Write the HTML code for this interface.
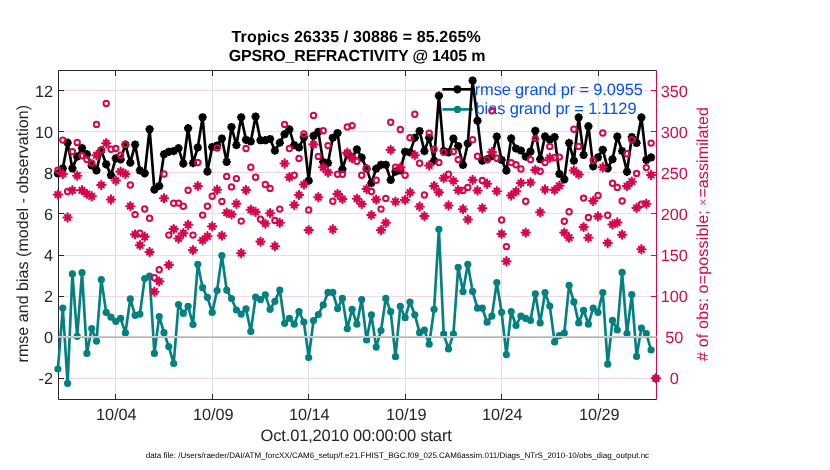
<!DOCTYPE html>
<html lang="en">
<head>
<meta charset="utf-8">
<title>GPSRO_REFRACTIVITY @ 1405 m</title>
<style>
html,body{margin:0;padding:0;background:#fff;overflow:hidden}
body{width:830px;height:470px;font-family:"Liberation Sans",sans-serif}
</style>
</head>
<body>
<svg width="830" height="470" viewBox="0 0 830 470" style="display:block;will-change:transform;opacity:0.9999;text-rendering:geometricPrecision">
<rect width="830" height="470" fill="#fff"/>
<line x1="115.50" y1="70.5" x2="115.50" y2="399.5" stroke="#dfdfdf" stroke-width="1" shape-rendering="crispEdges"/>
<line x1="212.50" y1="70.5" x2="212.50" y2="399.5" stroke="#dfdfdf" stroke-width="1" shape-rendering="crispEdges"/>
<line x1="308.50" y1="70.5" x2="308.50" y2="399.5" stroke="#dfdfdf" stroke-width="1" shape-rendering="crispEdges"/>
<line x1="405.50" y1="70.5" x2="405.50" y2="399.5" stroke="#dfdfdf" stroke-width="1" shape-rendering="crispEdges"/>
<line x1="501.50" y1="70.5" x2="501.50" y2="399.5" stroke="#dfdfdf" stroke-width="1" shape-rendering="crispEdges"/>
<line x1="598.50" y1="70.5" x2="598.50" y2="399.5" stroke="#dfdfdf" stroke-width="1" shape-rendering="crispEdges"/>
<line x1="58.5" y1="378.50" x2="656.5" y2="378.50" stroke="#f8d6e1" stroke-width="1" shape-rendering="crispEdges"/>
<line x1="58.5" y1="337.50" x2="656.5" y2="337.50" stroke="#f8d6e1" stroke-width="1" shape-rendering="crispEdges"/>
<line x1="58.5" y1="296.50" x2="656.5" y2="296.50" stroke="#f8d6e1" stroke-width="1" shape-rendering="crispEdges"/>
<line x1="58.5" y1="255.50" x2="656.5" y2="255.50" stroke="#f8d6e1" stroke-width="1" shape-rendering="crispEdges"/>
<line x1="58.5" y1="213.50" x2="656.5" y2="213.50" stroke="#f8d6e1" stroke-width="1" shape-rendering="crispEdges"/>
<line x1="58.5" y1="172.50" x2="656.5" y2="172.50" stroke="#f8d6e1" stroke-width="1" shape-rendering="crispEdges"/>
<line x1="58.5" y1="131.50" x2="656.5" y2="131.50" stroke="#f8d6e1" stroke-width="1" shape-rendering="crispEdges"/>
<line x1="58.5" y1="90.50" x2="656.5" y2="90.50" stroke="#f8d6e1" stroke-width="1" shape-rendering="crispEdges"/>
<path d="M58.5 399.5V70.5H656.5" fill="none" stroke="#262626" stroke-width="1"/>
<path d="M58.5 399.5H656.5" fill="none" stroke="#262626" stroke-width="1"/>
<path d="M656.5 70.5V399.5" fill="none" stroke="#d6074f" stroke-width="1"/>
<path d="M115.50 399.5v-5.5M115.50 70.5v5.5" stroke="#262626" stroke-width="1"/>
<path d="M212.50 399.5v-5.5M212.50 70.5v5.5" stroke="#262626" stroke-width="1"/>
<path d="M308.50 399.5v-5.5M308.50 70.5v5.5" stroke="#262626" stroke-width="1"/>
<path d="M405.50 399.5v-5.5M405.50 70.5v5.5" stroke="#262626" stroke-width="1"/>
<path d="M501.50 399.5v-5.5M501.50 70.5v5.5" stroke="#262626" stroke-width="1"/>
<path d="M598.50 399.5v-5.5M598.50 70.5v5.5" stroke="#262626" stroke-width="1"/>
<path d="M58.5 378.50h5.5" stroke="#262626" stroke-width="1"/>
<path d="M58.5 337.50h5.5" stroke="#262626" stroke-width="1"/>
<path d="M58.5 296.50h5.5" stroke="#262626" stroke-width="1"/>
<path d="M58.5 255.50h5.5" stroke="#262626" stroke-width="1"/>
<path d="M58.5 213.50h5.5" stroke="#262626" stroke-width="1"/>
<path d="M58.5 172.50h5.5" stroke="#262626" stroke-width="1"/>
<path d="M58.5 131.50h5.5" stroke="#262626" stroke-width="1"/>
<path d="M58.5 90.50h5.5" stroke="#262626" stroke-width="1"/>
<path d="M656.5 378.50h-5.5" stroke="#d6074f" stroke-width="1"/>
<path d="M656.5 337.50h-5.5" stroke="#d6074f" stroke-width="1"/>
<path d="M656.5 296.50h-5.5" stroke="#d6074f" stroke-width="1"/>
<path d="M656.5 255.50h-5.5" stroke="#d6074f" stroke-width="1"/>
<path d="M656.5 213.50h-5.5" stroke="#d6074f" stroke-width="1"/>
<path d="M656.5 172.50h-5.5" stroke="#d6074f" stroke-width="1"/>
<path d="M656.5 131.50h-5.5" stroke="#d6074f" stroke-width="1"/>
<path d="M656.5 90.50h-5.5" stroke="#d6074f" stroke-width="1"/>
<defs>
<g id="bk"><circle r="3.25" fill="#000"/><path d="M-4.1 0H4.1M0 -4.1V4.1M-2.9 -2.9L2.9 2.9M-2.9 2.9L2.9 -2.9" stroke="#000" stroke-width="2.4" fill="none"/></g>
<circle id="tl" r="3.6" fill="#038080"/>
<circle id="ro" r="2.7" fill="none" stroke="#d6074f" stroke-width="2"/>
<g id="rs"><circle r="2.7" fill="#d6074f"/><path d="M-4.15 0H4.15M0 -4.15V4.15M-2.6 -2.6L2.6 2.6M-2.6 2.6L2.6 -2.6" stroke="#d6074f" stroke-width="2.1" stroke-linecap="round" fill="none"/></g>
</defs>
<path d="M442.4 89.3H472.8" stroke="#000" stroke-width="2.67"/><use href="#bk" x="457.4" y="89.3"/>
<path d="M442.4 109.4H472.8" stroke="#038080" stroke-width="2.67"/><use href="#tl" x="457.4" y="109.4"/>
<polyline points="57.9,369.0 62.8,308.1 67.6,383.3 72.4,273.9 77.2,336.3 82.0,272.7 86.9,353.4 91.7,328.6 96.5,341.1 101.3,279.7 106.2,312.4 111.0,317.2 115.8,321.3 120.6,318.4 125.4,332.9 130.3,298.9 135.1,315.3 139.9,314.1 144.7,278.5 149.6,276.1 154.4,353.4 159.2,316.5 164.0,332.7 168.8,346.6 173.7,363.5 178.5,304.5 183.3,313.4 188.1,306.4 193.0,324.5 197.8,264.3 202.6,287.7 207.4,297.3 212.2,312.4 217.1,290.5 221.9,255.6 226.7,290.1 231.5,298.5 236.4,310.0 241.2,314.1 246.0,308.8 250.8,331.4 255.6,297.2 260.5,299.6 265.3,294.8 270.1,309.3 274.9,301.3 279.8,290.0 284.6,323.3 289.4,318.4 294.2,324.2 299.0,311.7 303.9,322.0 308.7,357.5 313.5,320.6 318.3,314.6 323.2,304.9 328.0,292.4 332.8,292.4 337.6,308.6 342.4,298.4 347.3,328.6 352.1,309.3 356.9,324.2 361.7,299.6 366.6,339.9 371.4,314.8 376.2,347.1 381.0,330.5 385.8,298.4 390.7,311.7 395.5,356.7 400.3,306.4 405.1,317.7 410.0,302.0 414.8,314.8 419.6,332.7 424.4,330.2 429.2,344.2 434.1,309.3 438.9,229.3 443.7,334.1 448.5,349.0 453.4,334.1 458.2,267.3 463.0,291.6 467.8,264.3 472.6,291.4 477.5,308.2 482.3,308.2 487.1,322.2 491.9,316.1 496.8,282.5 501.6,312.3 506.4,354.6 511.2,311.5 516.0,325.5 520.9,316.1 525.7,318.4 530.5,320.4 535.3,293.8 540.2,322.9 545.0,292.5 549.8,306.0 554.6,341.9 559.4,335.6 564.3,333.1 569.1,285.3 573.9,301.9 578.7,322.9 583.6,310.3 588.4,324.2 593.2,308.2 598.0,312.3 602.8,292.5 607.7,364.2 612.5,320.4 617.3,330.0 622.1,272.4 627.0,333.6 631.8,294.6 636.6,356.4 641.4,328.0 646.3,333.6 651.1,350.0" fill="none" stroke="#038080" stroke-width="2.67" stroke-linejoin="round"/>
<use href="#tl" x="57.9" y="369.0"/>
<use href="#tl" x="62.8" y="308.1"/>
<use href="#tl" x="67.6" y="383.3"/>
<use href="#tl" x="72.4" y="273.9"/>
<use href="#tl" x="77.2" y="336.3"/>
<use href="#tl" x="82.0" y="272.7"/>
<use href="#tl" x="86.9" y="353.4"/>
<use href="#tl" x="91.7" y="328.6"/>
<use href="#tl" x="96.5" y="341.1"/>
<use href="#tl" x="101.3" y="279.7"/>
<use href="#tl" x="106.2" y="312.4"/>
<use href="#tl" x="111.0" y="317.2"/>
<use href="#tl" x="115.8" y="321.3"/>
<use href="#tl" x="120.6" y="318.4"/>
<use href="#tl" x="125.4" y="332.9"/>
<use href="#tl" x="130.3" y="298.9"/>
<use href="#tl" x="135.1" y="315.3"/>
<use href="#tl" x="139.9" y="314.1"/>
<use href="#tl" x="144.7" y="278.5"/>
<use href="#tl" x="149.6" y="276.1"/>
<use href="#tl" x="154.4" y="353.4"/>
<use href="#tl" x="159.2" y="316.5"/>
<use href="#tl" x="164.0" y="332.7"/>
<use href="#tl" x="168.8" y="346.6"/>
<use href="#tl" x="173.7" y="363.5"/>
<use href="#tl" x="178.5" y="304.5"/>
<use href="#tl" x="183.3" y="313.4"/>
<use href="#tl" x="188.1" y="306.4"/>
<use href="#tl" x="193.0" y="324.5"/>
<use href="#tl" x="197.8" y="264.3"/>
<use href="#tl" x="202.6" y="287.7"/>
<use href="#tl" x="207.4" y="297.3"/>
<use href="#tl" x="212.2" y="312.4"/>
<use href="#tl" x="217.1" y="290.5"/>
<use href="#tl" x="221.9" y="255.6"/>
<use href="#tl" x="226.7" y="290.1"/>
<use href="#tl" x="231.5" y="298.5"/>
<use href="#tl" x="236.4" y="310.0"/>
<use href="#tl" x="241.2" y="314.1"/>
<use href="#tl" x="246.0" y="308.8"/>
<use href="#tl" x="250.8" y="331.4"/>
<use href="#tl" x="255.6" y="297.2"/>
<use href="#tl" x="260.5" y="299.6"/>
<use href="#tl" x="265.3" y="294.8"/>
<use href="#tl" x="270.1" y="309.3"/>
<use href="#tl" x="274.9" y="301.3"/>
<use href="#tl" x="279.8" y="290.0"/>
<use href="#tl" x="284.6" y="323.3"/>
<use href="#tl" x="289.4" y="318.4"/>
<use href="#tl" x="294.2" y="324.2"/>
<use href="#tl" x="299.0" y="311.7"/>
<use href="#tl" x="303.9" y="322.0"/>
<use href="#tl" x="308.7" y="357.5"/>
<use href="#tl" x="313.5" y="320.6"/>
<use href="#tl" x="318.3" y="314.6"/>
<use href="#tl" x="323.2" y="304.9"/>
<use href="#tl" x="328.0" y="292.4"/>
<use href="#tl" x="332.8" y="292.4"/>
<use href="#tl" x="337.6" y="308.6"/>
<use href="#tl" x="342.4" y="298.4"/>
<use href="#tl" x="347.3" y="328.6"/>
<use href="#tl" x="352.1" y="309.3"/>
<use href="#tl" x="356.9" y="324.2"/>
<use href="#tl" x="361.7" y="299.6"/>
<use href="#tl" x="366.6" y="339.9"/>
<use href="#tl" x="371.4" y="314.8"/>
<use href="#tl" x="376.2" y="347.1"/>
<use href="#tl" x="381.0" y="330.5"/>
<use href="#tl" x="385.8" y="298.4"/>
<use href="#tl" x="390.7" y="311.7"/>
<use href="#tl" x="395.5" y="356.7"/>
<use href="#tl" x="400.3" y="306.4"/>
<use href="#tl" x="405.1" y="317.7"/>
<use href="#tl" x="410.0" y="302.0"/>
<use href="#tl" x="414.8" y="314.8"/>
<use href="#tl" x="419.6" y="332.7"/>
<use href="#tl" x="424.4" y="330.2"/>
<use href="#tl" x="429.2" y="344.2"/>
<use href="#tl" x="434.1" y="309.3"/>
<use href="#tl" x="438.9" y="229.3"/>
<use href="#tl" x="443.7" y="334.1"/>
<use href="#tl" x="448.5" y="349.0"/>
<use href="#tl" x="453.4" y="334.1"/>
<use href="#tl" x="458.2" y="267.3"/>
<use href="#tl" x="463.0" y="291.6"/>
<use href="#tl" x="467.8" y="264.3"/>
<use href="#tl" x="472.6" y="291.4"/>
<use href="#tl" x="477.5" y="308.2"/>
<use href="#tl" x="482.3" y="308.2"/>
<use href="#tl" x="487.1" y="322.2"/>
<use href="#tl" x="491.9" y="316.1"/>
<use href="#tl" x="496.8" y="282.5"/>
<use href="#tl" x="501.6" y="312.3"/>
<use href="#tl" x="506.4" y="354.6"/>
<use href="#tl" x="511.2" y="311.5"/>
<use href="#tl" x="516.0" y="325.5"/>
<use href="#tl" x="520.9" y="316.1"/>
<use href="#tl" x="525.7" y="318.4"/>
<use href="#tl" x="530.5" y="320.4"/>
<use href="#tl" x="535.3" y="293.8"/>
<use href="#tl" x="540.2" y="322.9"/>
<use href="#tl" x="545.0" y="292.5"/>
<use href="#tl" x="549.8" y="306.0"/>
<use href="#tl" x="554.6" y="341.9"/>
<use href="#tl" x="559.4" y="335.6"/>
<use href="#tl" x="564.3" y="333.1"/>
<use href="#tl" x="569.1" y="285.3"/>
<use href="#tl" x="573.9" y="301.9"/>
<use href="#tl" x="578.7" y="322.9"/>
<use href="#tl" x="583.6" y="310.3"/>
<use href="#tl" x="588.4" y="324.2"/>
<use href="#tl" x="593.2" y="308.2"/>
<use href="#tl" x="598.0" y="312.3"/>
<use href="#tl" x="602.8" y="292.5"/>
<use href="#tl" x="607.7" y="364.2"/>
<use href="#tl" x="612.5" y="320.4"/>
<use href="#tl" x="617.3" y="330.0"/>
<use href="#tl" x="622.1" y="272.4"/>
<use href="#tl" x="627.0" y="333.6"/>
<use href="#tl" x="631.8" y="294.6"/>
<use href="#tl" x="636.6" y="356.4"/>
<use href="#tl" x="641.4" y="328.0"/>
<use href="#tl" x="646.3" y="333.6"/>
<use href="#tl" x="651.1" y="350.0"/>
<polyline points="57.9,173.5 62.8,168.4 67.6,142.7 72.4,168.4 77.2,156.6 82.0,148.0 86.9,154.2 91.7,165.5 96.5,170.4 101.3,150.4 106.2,164.3 111.0,175.2 115.8,158.3 120.6,159.5 125.4,144.6 130.3,162.7 135.1,144.6 139.9,170.4 144.7,173.3 149.6,129.2 154.4,189.6 159.2,186.0 164.0,154.2 168.8,151.8 173.7,151.1 178.5,148.2 183.3,163.6 188.1,128.2 193.0,163.1 197.8,147.5 202.6,117.3 207.4,171.6 212.2,147.0 217.1,145.5 221.9,138.6 226.7,161.9 231.5,127.0 236.4,145.1 241.2,117.3 246.0,139.8 250.8,141.4 255.6,116.6 260.5,140.2 265.3,140.2 270.1,139.0 274.9,150.6 279.8,142.7 284.6,134.2 289.4,129.4 294.2,145.1 299.0,147.5 303.9,137.3 308.7,180.7 313.5,135.9 318.3,131.8 323.2,161.9 328.0,163.1 332.8,137.8 337.6,133.0 342.4,169.2 347.3,153.5 352.1,157.6 356.9,149.4 361.7,157.6 366.6,168.7 371.4,183.1 376.2,168.7 381.0,164.8 385.8,164.8 390.7,180.0 395.5,171.6 400.3,170.4 405.1,151.8 410.0,152.3 414.8,137.8 419.6,131.1 424.4,151.1 429.2,137.8 434.1,160.7 438.9,95.7 443.7,151.1 448.5,152.3 453.4,138.6 458.2,146.0 463.0,165.0 467.8,143.5 472.6,80.6 477.5,120.7 482.3,160.7 487.1,159.2 491.9,156.1 496.8,136.6 501.6,159.9 506.4,170.6 511.2,138.4 516.0,148.5 520.9,150.5 525.7,156.6 530.5,151.6 535.3,130.8 540.2,159.2 545.0,136.4 549.8,139.7 554.6,137.1 559.4,173.9 564.3,179.4 569.1,142.9 573.9,160.7 578.7,117.4 583.6,154.9 588.4,126.2 593.2,166.3 598.0,157.4 602.8,149.8 607.7,168.3 612.5,159.2 617.3,136.6 622.1,151.1 627.0,171.8 631.8,137.1 636.6,142.9 641.4,117.4 646.3,159.9 651.1,157.4" fill="none" stroke="#000" stroke-width="2.67" stroke-linejoin="round"/>
<use href="#bk" x="57.9" y="173.5"/>
<use href="#bk" x="62.8" y="168.4"/>
<use href="#bk" x="67.6" y="142.7"/>
<use href="#bk" x="72.4" y="168.4"/>
<use href="#bk" x="77.2" y="156.6"/>
<use href="#bk" x="82.0" y="148.0"/>
<use href="#bk" x="86.9" y="154.2"/>
<use href="#bk" x="91.7" y="165.5"/>
<use href="#bk" x="96.5" y="170.4"/>
<use href="#bk" x="101.3" y="150.4"/>
<use href="#bk" x="106.2" y="164.3"/>
<use href="#bk" x="111.0" y="175.2"/>
<use href="#bk" x="115.8" y="158.3"/>
<use href="#bk" x="120.6" y="159.5"/>
<use href="#bk" x="125.4" y="144.6"/>
<use href="#bk" x="130.3" y="162.7"/>
<use href="#bk" x="135.1" y="144.6"/>
<use href="#bk" x="139.9" y="170.4"/>
<use href="#bk" x="144.7" y="173.3"/>
<use href="#bk" x="149.6" y="129.2"/>
<use href="#bk" x="154.4" y="189.6"/>
<use href="#bk" x="159.2" y="186.0"/>
<use href="#bk" x="164.0" y="154.2"/>
<use href="#bk" x="168.8" y="151.8"/>
<use href="#bk" x="173.7" y="151.1"/>
<use href="#bk" x="178.5" y="148.2"/>
<use href="#bk" x="183.3" y="163.6"/>
<use href="#bk" x="188.1" y="128.2"/>
<use href="#bk" x="193.0" y="163.1"/>
<use href="#bk" x="197.8" y="147.5"/>
<use href="#bk" x="202.6" y="117.3"/>
<use href="#bk" x="207.4" y="171.6"/>
<use href="#bk" x="212.2" y="147.0"/>
<use href="#bk" x="217.1" y="145.5"/>
<use href="#bk" x="221.9" y="138.6"/>
<use href="#bk" x="226.7" y="161.9"/>
<use href="#bk" x="231.5" y="127.0"/>
<use href="#bk" x="236.4" y="145.1"/>
<use href="#bk" x="241.2" y="117.3"/>
<use href="#bk" x="246.0" y="139.8"/>
<use href="#bk" x="250.8" y="141.4"/>
<use href="#bk" x="255.6" y="116.6"/>
<use href="#bk" x="260.5" y="140.2"/>
<use href="#bk" x="265.3" y="140.2"/>
<use href="#bk" x="270.1" y="139.0"/>
<use href="#bk" x="274.9" y="150.6"/>
<use href="#bk" x="279.8" y="142.7"/>
<use href="#bk" x="284.6" y="134.2"/>
<use href="#bk" x="289.4" y="129.4"/>
<use href="#bk" x="294.2" y="145.1"/>
<use href="#bk" x="299.0" y="147.5"/>
<use href="#bk" x="303.9" y="137.3"/>
<use href="#bk" x="308.7" y="180.7"/>
<use href="#bk" x="313.5" y="135.9"/>
<use href="#bk" x="318.3" y="131.8"/>
<use href="#bk" x="323.2" y="161.9"/>
<use href="#bk" x="328.0" y="163.1"/>
<use href="#bk" x="332.8" y="137.8"/>
<use href="#bk" x="337.6" y="133.0"/>
<use href="#bk" x="342.4" y="169.2"/>
<use href="#bk" x="347.3" y="153.5"/>
<use href="#bk" x="352.1" y="157.6"/>
<use href="#bk" x="356.9" y="149.4"/>
<use href="#bk" x="361.7" y="157.6"/>
<use href="#bk" x="366.6" y="168.7"/>
<use href="#bk" x="371.4" y="183.1"/>
<use href="#bk" x="376.2" y="168.7"/>
<use href="#bk" x="381.0" y="164.8"/>
<use href="#bk" x="385.8" y="164.8"/>
<use href="#bk" x="390.7" y="180.0"/>
<use href="#bk" x="395.5" y="171.6"/>
<use href="#bk" x="400.3" y="170.4"/>
<use href="#bk" x="405.1" y="151.8"/>
<use href="#bk" x="410.0" y="152.3"/>
<use href="#bk" x="414.8" y="137.8"/>
<use href="#bk" x="419.6" y="131.1"/>
<use href="#bk" x="424.4" y="151.1"/>
<use href="#bk" x="429.2" y="137.8"/>
<use href="#bk" x="434.1" y="160.7"/>
<use href="#bk" x="438.9" y="95.7"/>
<use href="#bk" x="443.7" y="151.1"/>
<use href="#bk" x="448.5" y="152.3"/>
<use href="#bk" x="453.4" y="138.6"/>
<use href="#bk" x="458.2" y="146.0"/>
<use href="#bk" x="463.0" y="165.0"/>
<use href="#bk" x="467.8" y="143.5"/>
<use href="#bk" x="472.6" y="80.6"/>
<use href="#bk" x="477.5" y="120.7"/>
<use href="#bk" x="482.3" y="160.7"/>
<use href="#bk" x="487.1" y="159.2"/>
<use href="#bk" x="491.9" y="156.1"/>
<use href="#bk" x="496.8" y="136.6"/>
<use href="#bk" x="501.6" y="159.9"/>
<use href="#bk" x="506.4" y="170.6"/>
<use href="#bk" x="511.2" y="138.4"/>
<use href="#bk" x="516.0" y="148.5"/>
<use href="#bk" x="520.9" y="150.5"/>
<use href="#bk" x="525.7" y="156.6"/>
<use href="#bk" x="530.5" y="151.6"/>
<use href="#bk" x="535.3" y="130.8"/>
<use href="#bk" x="540.2" y="159.2"/>
<use href="#bk" x="545.0" y="136.4"/>
<use href="#bk" x="549.8" y="139.7"/>
<use href="#bk" x="554.6" y="137.1"/>
<use href="#bk" x="559.4" y="173.9"/>
<use href="#bk" x="564.3" y="179.4"/>
<use href="#bk" x="569.1" y="142.9"/>
<use href="#bk" x="573.9" y="160.7"/>
<use href="#bk" x="578.7" y="117.4"/>
<use href="#bk" x="583.6" y="154.9"/>
<use href="#bk" x="588.4" y="126.2"/>
<use href="#bk" x="593.2" y="166.3"/>
<use href="#bk" x="598.0" y="157.4"/>
<use href="#bk" x="602.8" y="149.8"/>
<use href="#bk" x="607.7" y="168.3"/>
<use href="#bk" x="612.5" y="159.2"/>
<use href="#bk" x="617.3" y="136.6"/>
<use href="#bk" x="622.1" y="151.1"/>
<use href="#bk" x="627.0" y="171.8"/>
<use href="#bk" x="631.8" y="137.1"/>
<use href="#bk" x="636.6" y="142.9"/>
<use href="#bk" x="641.4" y="117.4"/>
<use href="#bk" x="646.3" y="159.9"/>
<use href="#bk" x="651.1" y="157.4"/>
<path d="M58.5 337H656.5" stroke="#cdcdcd" stroke-width="2"/><path d="M58.5 337.5H656.5" stroke="#d2a5b6" stroke-width="1"/>
<g font-family="Liberation Sans, sans-serif" font-size="16.3" fill="#262626">
<text x="116.30" y="419.8" text-anchor="middle">10/04</text>
<text x="213.30" y="419.8" text-anchor="middle">10/09</text>
<text x="309.30" y="419.8" text-anchor="middle">10/14</text>
<text x="406.30" y="419.8" text-anchor="middle">10/19</text>
<text x="502.30" y="419.8" text-anchor="middle">10/24</text>
<text x="599.30" y="419.8" text-anchor="middle">10/29</text>
<text x="53" y="384.13" text-anchor="end">-2</text>
<text x="53" y="343.09" text-anchor="end">0</text>
<text x="53" y="302.05" text-anchor="end">2</text>
<text x="53" y="261.01" text-anchor="end">4</text>
<text x="53" y="219.97" text-anchor="end">6</text>
<text x="53" y="178.93" text-anchor="end">8</text>
<text x="53" y="137.89" text-anchor="end">10</text>
<text x="53" y="96.85" text-anchor="end">12</text>
</g>
<g font-family="Liberation Sans, sans-serif" font-size="16.3" fill="#d6074f">
<text x="674.3" y="384.13" text-anchor="middle">0</text>
<text x="674.3" y="343.09" text-anchor="middle">50</text>
<text x="674.3" y="302.05" text-anchor="middle">100</text>
<text x="674.3" y="261.01" text-anchor="middle">150</text>
<text x="674.3" y="219.97" text-anchor="middle">200</text>
<text x="674.3" y="178.93" text-anchor="middle">250</text>
<text x="674.3" y="137.89" text-anchor="middle">300</text>
<text x="674.3" y="96.85" text-anchor="middle">350</text>
</g>
<g font-family="Liberation Sans, sans-serif" fill="#262626">
<text x="231.6" y="41.8" font-size="16" font-weight="bold" textLength="249.1" lengthAdjust="spacing" fill="#000">Tropics 26335 / 30886 = 85.265%</text>
<text x="228.8" y="61.4" font-size="16" font-weight="bold" textLength="256.6" lengthAdjust="spacing" fill="#000">GPSRO_REFRACTIVITY @ 1405 m</text>
<text x="260.6" y="441.1" font-size="16.5" textLength="191.2" lengthAdjust="spacing">Oct.01,2010 00:00:00 start</text>
<text transform="translate(28,362.4) rotate(-90)" font-size="16" textLength="257.4" lengthAdjust="spacing">rmse and bias (model - observation)</text>
<text transform="translate(707.6,360.9) rotate(-90)" font-size="16" textLength="150.6" lengthAdjust="spacing" fill="#d6074f"># of obs: o=possible;</text>
<text transform="translate(706.8,205.8) rotate(-90)" font-size="11.5" font-weight="bold" fill="#e4668e">×</text>
<text transform="translate(707.6,197.6) rotate(-90)" font-size="16" textLength="90.6" lengthAdjust="spacing" fill="#d6074f">=assimilated</text>
<text x="145.7" y="458.4" font-size="8" textLength="503.4" lengthAdjust="spacing" fill="#000">data file: /Users/raeder/DAI/ATM_forcXX/CAM6_setup/f.e21.FHIST_BGC.f09_025.CAM6assim.011/Diags_NTrS_2010-10/obs_diag_output.nc</text>
</g>
<g font-family="Liberation Sans, sans-serif" font-size="16.4" fill="#0050ff">
<text x="474.8" y="95.2" textLength="168" lengthAdjust="spacing">rmse grand pr = 9.0955</text>
<text x="475.6" y="114.1" textLength="160.9" lengthAdjust="spacing">bias grand pr = 1.1129</text>
</g>
<use href="#ro" x="57.9" y="170.2"/>
<use href="#ro" x="62.8" y="140.1"/>
<use href="#ro" x="67.6" y="191.5"/>
<use href="#ro" x="72.4" y="151.6"/>
<use href="#ro" x="77.2" y="142.5"/>
<use href="#ro" x="82.0" y="155.7"/>
<use href="#ro" x="86.9" y="159.6"/>
<use href="#ro" x="91.7" y="163.0"/>
<use href="#ro" x="96.5" y="124.4"/>
<use href="#ro" x="101.3" y="149.9"/>
<use href="#ro" x="106.2" y="103.4"/>
<use href="#ro" x="111.0" y="149.2"/>
<use href="#ro" x="115.8" y="148.5"/>
<use href="#ro" x="120.6" y="155.2"/>
<use href="#ro" x="125.4" y="144.4"/>
<use href="#ro" x="130.3" y="185.0"/>
<use href="#ro" x="135.1" y="214.6"/>
<use href="#ro" x="139.9" y="233.2"/>
<use href="#ro" x="144.7" y="209.0"/>
<use href="#ro" x="149.6" y="218.3"/>
<use href="#ro" x="154.4" y="277.8"/>
<use href="#ro" x="159.2" y="269.8"/>
<use href="#ro" x="164.0" y="174.0"/>
<use href="#ro" x="168.8" y="235.1"/>
<use href="#ro" x="173.7" y="203.2"/>
<use href="#ro" x="178.5" y="203.1"/>
<use href="#ro" x="183.3" y="206.2"/>
<use href="#ro" x="188.1" y="190.3"/>
<use href="#ro" x="193.0" y="235.1"/>
<use href="#ro" x="197.8" y="162.5"/>
<use href="#ro" x="202.6" y="215.1"/>
<use href="#ro" x="207.4" y="206.2"/>
<use href="#ro" x="212.2" y="196.3"/>
<use href="#ro" x="217.1" y="148.0"/>
<use href="#ro" x="221.9" y="201.4"/>
<use href="#ro" x="226.7" y="176.4"/>
<use href="#ro" x="231.5" y="186.9"/>
<use href="#ro" x="236.4" y="178.6"/>
<use href="#ro" x="241.2" y="221.1"/>
<use href="#ro" x="246.0" y="148.5"/>
<use href="#ro" x="250.8" y="167.3"/>
<use href="#ro" x="255.6" y="177.3"/>
<use href="#ro" x="260.5" y="219.2"/>
<use href="#ro" x="265.3" y="184.5"/>
<use href="#ro" x="270.1" y="188.4"/>
<use href="#ro" x="274.9" y="220.4"/>
<use href="#ro" x="279.8" y="209.1"/>
<use href="#ro" x="284.6" y="124.4"/>
<use href="#ro" x="289.4" y="148.5"/>
<use href="#ro" x="294.2" y="175.3"/>
<use href="#ro" x="299.0" y="158.4"/>
<use href="#ro" x="303.9" y="134.0"/>
<use href="#ro" x="308.7" y="210.0"/>
<use href="#ro" x="313.5" y="115.5"/>
<use href="#ro" x="318.3" y="156.4"/>
<use href="#ro" x="323.2" y="130.7"/>
<use href="#ro" x="328.0" y="145.6"/>
<use href="#ro" x="332.8" y="201.3"/>
<use href="#ro" x="337.6" y="174.3"/>
<use href="#ro" x="342.4" y="174.3"/>
<use href="#ro" x="347.3" y="127.0"/>
<use href="#ro" x="352.1" y="125.6"/>
<use href="#ro" x="356.9" y="161.3"/>
<use href="#ro" x="361.7" y="175.3"/>
<use href="#ro" x="366.6" y="168.3"/>
<use href="#ro" x="371.4" y="191.5"/>
<use href="#ro" x="376.2" y="180.2"/>
<use href="#ro" x="381.0" y="209.1"/>
<use href="#ro" x="385.8" y="198.4"/>
<use href="#ro" x="390.7" y="122.2"/>
<use href="#ro" x="395.5" y="167.3"/>
<use href="#ro" x="400.3" y="129.5"/>
<use href="#ro" x="405.1" y="175.3"/>
<use href="#ro" x="410.0" y="137.7"/>
<use href="#ro" x="414.8" y="114.3"/>
<use href="#ro" x="419.6" y="163.2"/>
<use href="#ro" x="424.4" y="195.0"/>
<use href="#ro" x="429.2" y="133.1"/>
<use href="#ro" x="434.1" y="149.2"/>
<use href="#ro" x="438.9" y="162.5"/>
<use href="#ro" x="443.7" y="152.3"/>
<use href="#ro" x="448.5" y="174.2"/>
<use href="#ro" x="453.4" y="151.6"/>
<use href="#ro" x="458.2" y="159.6"/>
<use href="#ro" x="463.0" y="190.4"/>
<use href="#ro" x="467.8" y="187.4"/>
<use href="#ro" x="472.6" y="139.8"/>
<use href="#ro" x="477.5" y="156.3"/>
<use href="#ro" x="482.3" y="180.5"/>
<use href="#ro" x="487.1" y="159.6"/>
<use href="#ro" x="491.9" y="110.7"/>
<use href="#ro" x="496.8" y="158.3"/>
<use href="#ro" x="501.6" y="220.0"/>
<use href="#ro" x="506.4" y="246.6"/>
<use href="#ro" x="511.2" y="162.6"/>
<use href="#ro" x="516.0" y="164.7"/>
<use href="#ro" x="520.9" y="169.0"/>
<use href="#ro" x="525.7" y="201.3"/>
<use href="#ro" x="530.5" y="159.6"/>
<use href="#ro" x="535.3" y="138.6"/>
<use href="#ro" x="540.2" y="171.2"/>
<use href="#ro" x="545.0" y="162.6"/>
<use href="#ro" x="549.8" y="146.4"/>
<use href="#ro" x="554.6" y="157.6"/>
<use href="#ro" x="559.4" y="157.1"/>
<use href="#ro" x="564.3" y="221.2"/>
<use href="#ro" x="569.1" y="211.7"/>
<use href="#ro" x="573.9" y="129.2"/>
<use href="#ro" x="578.7" y="146.4"/>
<use href="#ro" x="583.6" y="198.1"/>
<use href="#ro" x="588.4" y="217.4"/>
<use href="#ro" x="593.2" y="160.3"/>
<use href="#ro" x="598.0" y="195.5"/>
<use href="#ro" x="602.8" y="133.0"/>
<use href="#ro" x="607.7" y="215.2"/>
<use href="#ro" x="612.5" y="183.2"/>
<use href="#ro" x="617.3" y="187.4"/>
<use href="#ro" x="622.1" y="201.0"/>
<use href="#ro" x="627.0" y="153.8"/>
<use href="#ro" x="631.8" y="139.8"/>
<use href="#ro" x="636.6" y="173.4"/>
<use href="#ro" x="641.4" y="204.3"/>
<use href="#ro" x="646.3" y="167.6"/>
<use href="#ro" x="651.1" y="143.1"/>
<use href="#ro" x="655.9" y="378.3"/>
<use href="#rs" x="57.9" y="194.6"/>
<use href="#rs" x="62.8" y="174.0"/>
<use href="#rs" x="67.6" y="217.5"/>
<use href="#rs" x="72.4" y="190.3"/>
<use href="#rs" x="77.2" y="175.7"/>
<use href="#rs" x="82.0" y="190.3"/>
<use href="#rs" x="86.9" y="193.9"/>
<use href="#rs" x="91.7" y="196.3"/>
<use href="#rs" x="96.5" y="155.2"/>
<use href="#rs" x="101.3" y="185.0"/>
<use href="#rs" x="106.2" y="143.2"/>
<use href="#rs" x="111.0" y="199.5"/>
<use href="#rs" x="115.8" y="180.5"/>
<use href="#rs" x="120.6" y="171.6"/>
<use href="#rs" x="125.4" y="174.0"/>
<use href="#rs" x="130.3" y="206.2"/>
<use href="#rs" x="135.1" y="234.4"/>
<use href="#rs" x="139.9" y="245.2"/>
<use href="#rs" x="144.7" y="236.8"/>
<use href="#rs" x="149.6" y="252.0"/>
<use href="#rs" x="154.4" y="291.7"/>
<use href="#rs" x="159.2" y="281.4"/>
<use href="#rs" x="164.0" y="198.3"/>
<use href="#rs" x="168.8" y="265.0"/>
<use href="#rs" x="173.7" y="229.1"/>
<use href="#rs" x="178.5" y="238.5"/>
<use href="#rs" x="183.3" y="233.2"/>
<use href="#rs" x="188.1" y="224.8"/>
<use href="#rs" x="193.0" y="250.1"/>
<use href="#rs" x="197.8" y="186.0"/>
<use href="#rs" x="202.6" y="240.4"/>
<use href="#rs" x="207.4" y="236.3"/>
<use href="#rs" x="212.2" y="226.4"/>
<use href="#rs" x="217.1" y="189.8"/>
<use href="#rs" x="221.9" y="235.6"/>
<use href="#rs" x="226.7" y="212.7"/>
<use href="#rs" x="231.5" y="214.4"/>
<use href="#rs" x="236.4" y="203.8"/>
<use href="#rs" x="241.2" y="253.2"/>
<use href="#rs" x="246.0" y="190.0"/>
<use href="#rs" x="250.8" y="209.8"/>
<use href="#rs" x="255.6" y="212.0"/>
<use href="#rs" x="260.5" y="241.6"/>
<use href="#rs" x="265.3" y="223.6"/>
<use href="#rs" x="270.1" y="213.2"/>
<use href="#rs" x="274.9" y="246.2"/>
<use href="#rs" x="279.8" y="222.8"/>
<use href="#rs" x="284.6" y="163.5"/>
<use href="#rs" x="289.4" y="177.2"/>
<use href="#rs" x="294.2" y="205.0"/>
<use href="#rs" x="299.0" y="195.0"/>
<use href="#rs" x="303.9" y="184.5"/>
<use href="#rs" x="308.7" y="230.1"/>
<use href="#rs" x="313.5" y="144.4"/>
<use href="#rs" x="318.3" y="197.2"/>
<use href="#rs" x="323.2" y="167.3"/>
<use href="#rs" x="328.0" y="172.4"/>
<use href="#rs" x="332.8" y="229.3"/>
<use href="#rs" x="337.6" y="193.9"/>
<use href="#rs" x="342.4" y="199.0"/>
<use href="#rs" x="347.3" y="152.8"/>
<use href="#rs" x="352.1" y="158.4"/>
<use href="#rs" x="356.9" y="198.7"/>
<use href="#rs" x="361.7" y="204.0"/>
<use href="#rs" x="366.6" y="189.0"/>
<use href="#rs" x="371.4" y="215.1"/>
<use href="#rs" x="376.2" y="199.6"/>
<use href="#rs" x="381.0" y="230.1"/>
<use href="#rs" x="385.8" y="222.8"/>
<use href="#rs" x="390.7" y="149.9"/>
<use href="#rs" x="395.5" y="201.7"/>
<use href="#rs" x="400.3" y="167.4"/>
<use href="#rs" x="405.1" y="199.9"/>
<use href="#rs" x="410.0" y="192.5"/>
<use href="#rs" x="414.8" y="155.2"/>
<use href="#rs" x="419.6" y="206.5"/>
<use href="#rs" x="424.4" y="216.1"/>
<use href="#rs" x="429.2" y="165.5"/>
<use href="#rs" x="434.1" y="186.0"/>
<use href="#rs" x="438.9" y="192.4"/>
<use href="#rs" x="443.7" y="178.2"/>
<use href="#rs" x="448.5" y="205.5"/>
<use href="#rs" x="453.4" y="181.0"/>
<use href="#rs" x="458.2" y="190.2"/>
<use href="#rs" x="463.0" y="209.2"/>
<use href="#rs" x="467.8" y="219.5"/>
<use href="#rs" x="472.6" y="180.0"/>
<use href="#rs" x="477.5" y="190.5"/>
<use href="#rs" x="482.3" y="208.2"/>
<use href="#rs" x="487.1" y="183.8"/>
<use href="#rs" x="491.9" y="152.0"/>
<use href="#rs" x="496.8" y="191.2"/>
<use href="#rs" x="501.6" y="233.9"/>
<use href="#rs" x="506.4" y="261.3"/>
<use href="#rs" x="511.2" y="195.5"/>
<use href="#rs" x="516.0" y="191.4"/>
<use href="#rs" x="520.9" y="183.0"/>
<use href="#rs" x="525.7" y="232.6"/>
<use href="#rs" x="530.5" y="182.5"/>
<use href="#rs" x="535.3" y="169.9"/>
<use href="#rs" x="540.2" y="212.3"/>
<use href="#rs" x="545.0" y="189.5"/>
<use href="#rs" x="549.8" y="157.8"/>
<use href="#rs" x="554.6" y="190.1"/>
<use href="#rs" x="559.4" y="185.8"/>
<use href="#rs" x="564.3" y="232.6"/>
<use href="#rs" x="569.1" y="237.7"/>
<use href="#rs" x="573.9" y="170.5"/>
<use href="#rs" x="578.7" y="174.4"/>
<use href="#rs" x="583.6" y="227.1"/>
<use href="#rs" x="588.4" y="237.7"/>
<use href="#rs" x="593.2" y="201.0"/>
<use href="#rs" x="598.0" y="216.4"/>
<use href="#rs" x="602.8" y="167.3"/>
<use href="#rs" x="607.7" y="243.0"/>
<use href="#rs" x="612.5" y="224.5"/>
<use href="#rs" x="617.3" y="222.5"/>
<use href="#rs" x="622.1" y="234.7"/>
<use href="#rs" x="627.0" y="186.1"/>
<use href="#rs" x="631.8" y="181.7"/>
<use href="#rs" x="636.6" y="207.9"/>
<use href="#rs" x="641.4" y="249.3"/>
<use href="#rs" x="646.3" y="203.7"/>
<use href="#rs" x="651.1" y="175.0"/>
<use href="#rs" x="655.9" y="378.3"/>
</svg>
</body>
</html>
